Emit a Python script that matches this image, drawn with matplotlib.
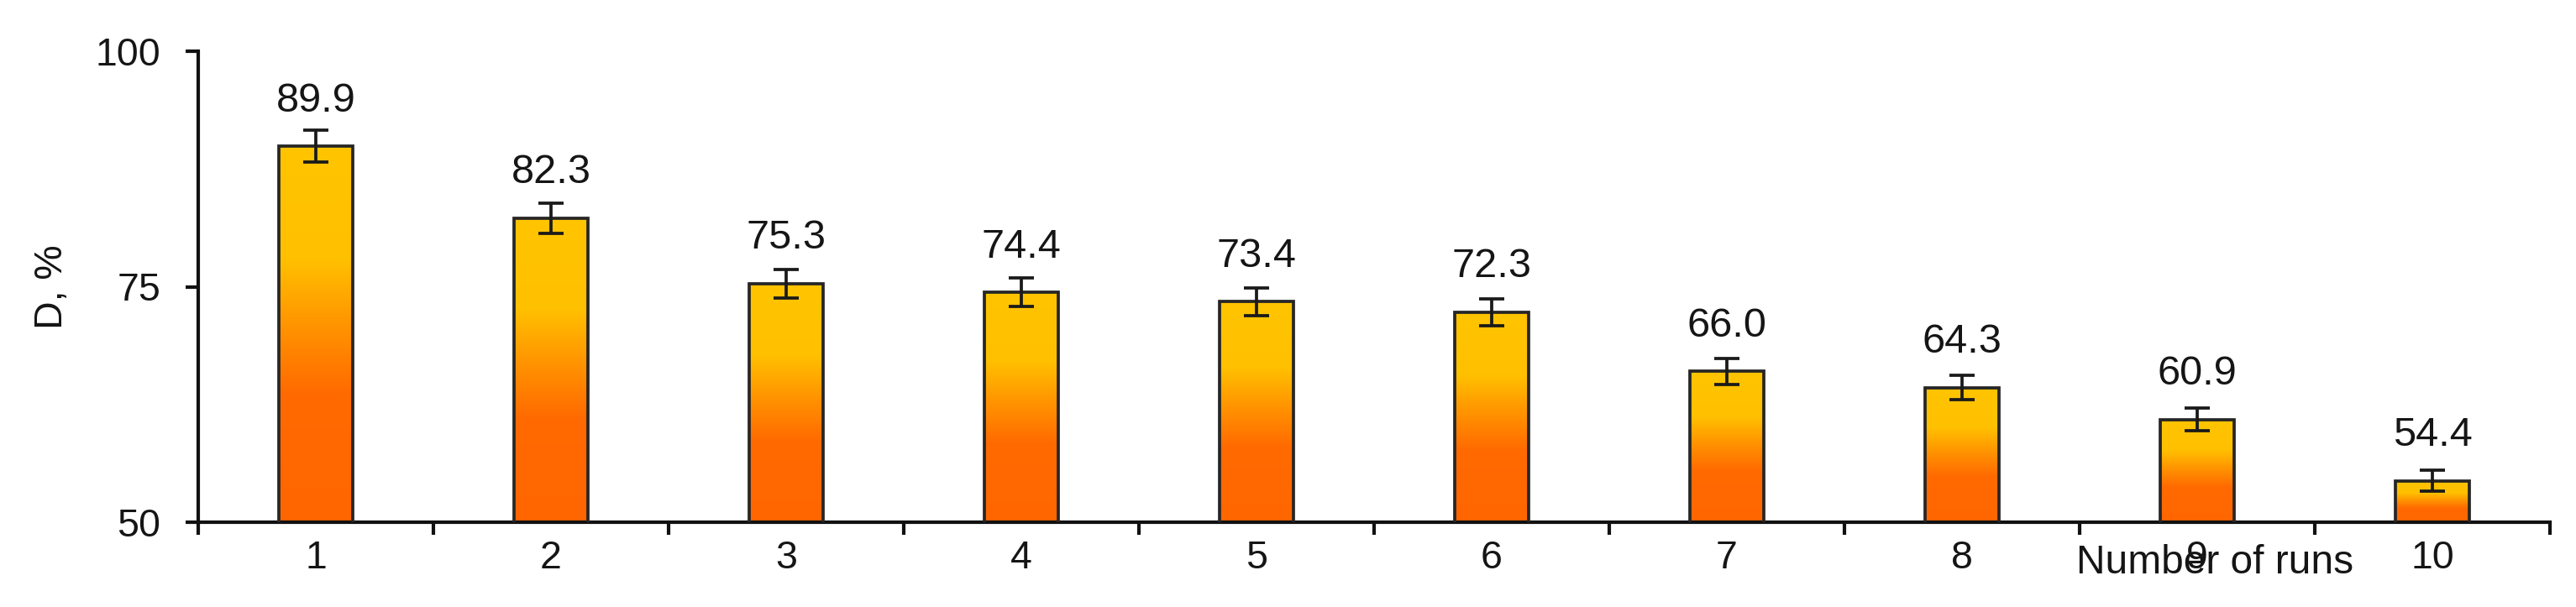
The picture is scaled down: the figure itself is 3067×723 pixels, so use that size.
import numpy as np
import matplotlib
matplotlib.use("Agg")
import matplotlib.pyplot as plt
from matplotlib.colors import LinearSegmentedColormap

# ---- data ----
runs = ["1", "2", "3", "4", "5", "6", "7", "8", "9", "10"]
d_values = [89.9, 82.3, 75.3, 74.4, 73.4, 72.3, 66.0, 64.3, 60.9, 54.4]
d_errors = [1.7, 1.6, 1.5, 1.5, 1.5, 1.4, 1.35, 1.3, 1.2, 1.1]
value_labels = ["89.9", "82.3", "75.3", "74.4", "73.4", "72.3", "66.0", "64.3", "60.9", "54.4"]
y_ticks = [50, 75, 100]
y_label = "D, %"
x_label = "Number of runs"

plt.rcParams['font.family'] = ['Liberation Sans', 'DejaVu Sans']
W, H, DPI = 3067, 723, 100
fig = plt.figure(figsize=(W / DPI, H / DPI), dpi=DPI)
ax = fig.add_axes([236 / W, 101 / H, 2800 / W, 561 / H])

x = np.arange(1, len(runs) + 1)
bars = ax.bar(x, d_values, width=0.314, bottom=0, facecolor='none',
              edgecolor='#262626', linewidth=2.7, zorder=3)

cmap = LinearSegmentedColormap.from_list(
    'grad', [(0.0, '#FF6600'), (0.34, '#FF6A00'), (0.52, '#FF9300'),
             (0.70, '#FFC000'), (1.0, '#FFC400')])
grad = np.linspace(0, 1, 256).reshape(-1, 1)
ymin, ymax = 50, 100
for b in bars:
    x0 = b.get_x()
    w = b.get_width()
    top = b.get_height()
    im = ax.imshow(grad, cmap=cmap, origin='lower', aspect='auto',
                   extent=(x0, x0 + w, ymin, top), zorder=2,
                   interpolation='bilinear')
    im.set_clip_path(b)

ax.errorbar(x, d_values, yerr=d_errors, fmt='none', ecolor='#1a1a1a',
            elinewidth=2.7, capsize=10.5, capthick=2.7, zorder=4)

for xi, v, lab in zip(x, d_values, value_labels):
    ax.annotate(lab, (xi, v), xytext=(0, 30), textcoords='offset points',
                ha='center', va='baseline', fontsize=35, color='#151515')

ax.set_xlim(0.5, len(runs) + 0.5)
ax.set_ylim(ymin, ymax)

for s in ['top', 'right']:
    ax.spines[s].set_visible(False)
for s in ['left', 'bottom']:
    ax.spines[s].set_linewidth(3.0)
    ax.spines[s].set_color('#111111')

ax.set_yticks(y_ticks)
ax.tick_params(axis='y', direction='out', length=11, width=3.0,
               labelsize=33.5, pad=21, colors='#111111', labelcolor='#151515')

ax.set_xticks(np.arange(0.5, len(runs) + 1.0, 1.0))
ax.set_xticklabels([])
ax.tick_params(axis='x', which='major', direction='out', length=11, width=3.0,
               colors='#111111')
ax.set_xticks(x, minor=True)
ax.set_xticklabels(runs, minor=True)
ax.tick_params(axis='x', which='minor', length=0, labelsize=33.5, pad=15,
               labelcolor='#151515')

ax.set_xlabel(x_label, fontsize=34.5, ha='left', va='baseline', color='#151515')
ax.xaxis.set_label_coords((2472 - 236) / 2800, (622 - 683) / 561)

ax.set_ylabel(y_label, fontsize=33.5, color='#151515')
ax.yaxis.set_label_coords((84 - 236) / 2800, 0.5)

fig.savefig("out.png", dpi=DPI, facecolor='white')
